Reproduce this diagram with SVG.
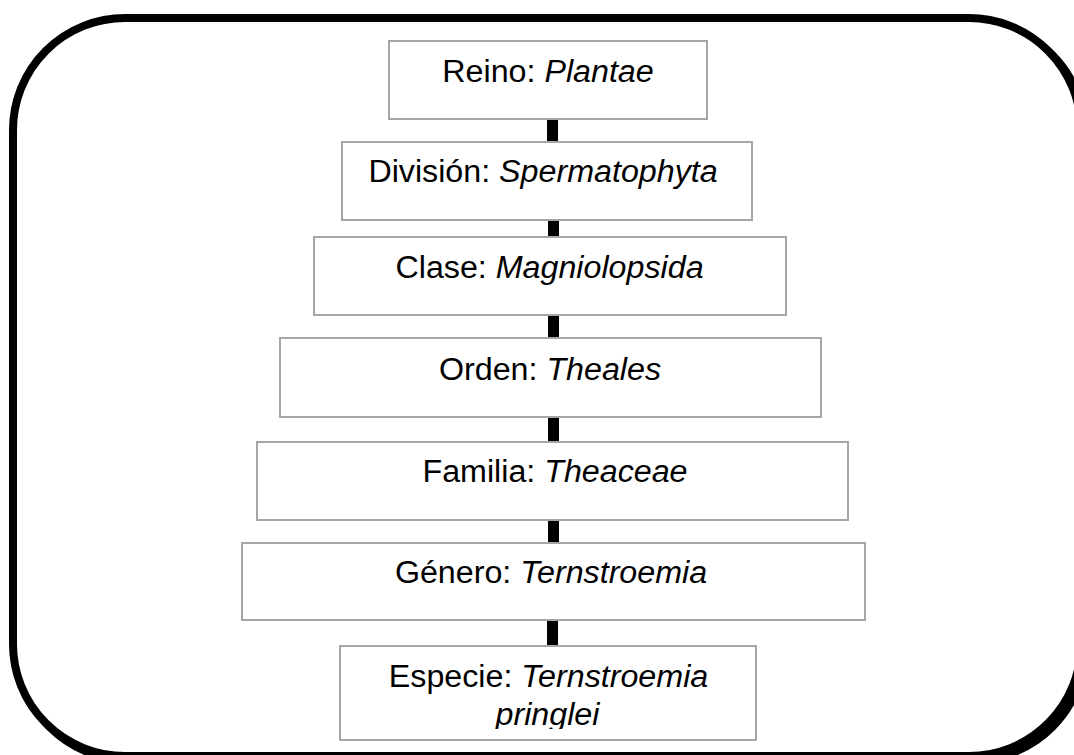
<svg xmlns="http://www.w3.org/2000/svg" width="1074" height="755" viewBox="0 0 1074 755">
<style>
.frame{fill:none;stroke:#000;stroke-width:8}
.box{fill:#fff;stroke:#a6a6a6;stroke-width:2}
.lbl{font-family:"Liberation Sans",Arial,sans-serif;font-size:31px;fill:#000;text-anchor:middle}
.lbl tspan.i{font-style:italic}
.bar{fill:#000}
</style>
<defs>
<clipPath id="clipEsp"><rect x="340" y="646" width="416" height="83"/></clipPath>
</defs>
<g id="frame">
<rect class="frame" x="17" y="22" width="1068" height="738" rx="112" ry="112"/>
<rect x="13" y="18" width="1068" height="738" rx="112" ry="112" fill="#fff" stroke="#000" stroke-width="8"/>
</g>
<g id="connectors">
<rect class="bar" x="547" y="119" width="11" height="23"/>
<rect class="bar" x="548" y="218" width="11" height="19"/>
<rect class="bar" x="548" y="315" width="11" height="23"/>
<rect class="bar" x="548" y="417" width="11" height="25"/>
<rect class="bar" x="548" y="520" width="11" height="23"/>
<rect class="bar" x="547" y="620" width="11" height="26"/>
</g>
<g id="reino">
<rect class="box" x="389" y="41" width="318" height="78"/>
<text class="lbl" transform="matrix(1.04 0 0 1 548 0)" x="0" y="82">Reino: <tspan class="i">Plantae</tspan></text>
</g>
<g id="division">
<rect class="box" x="342" y="142" width="410" height="78"/>
<text class="lbl" transform="matrix(1.04 0 0 1 543 0)" x="0" y="182">División: <tspan class="i">Spermatophyta</tspan></text>
</g>
<g id="clase">
<rect class="box" x="314" y="237" width="472" height="78"/>
<text class="lbl" transform="matrix(1.04 0 0 1 549.5 0)" x="0" y="278">Clase: <tspan class="i">Magniolopsida</tspan></text>
</g>
<g id="orden">
<rect class="box" x="280" y="338" width="541" height="79"/>
<text class="lbl" transform="matrix(1.04 0 0 1 550 0)" x="0" y="380">Orden: <tspan class="i">Theales</tspan></text>
</g>
<g id="familia">
<rect class="box" x="257" y="442" width="591" height="78"/>
<text class="lbl" transform="matrix(1.04 0 0 1 555 0)" x="0" y="482">Familia: <tspan class="i">Theaceae</tspan></text>
</g>
<g id="genero">
<rect class="box" x="242" y="543" width="623" height="77"/>
<text class="lbl" transform="matrix(1.04 0 0 1 551 0)" x="0" y="583">Género: <tspan class="i">Ternstroemia</tspan></text>
</g>
<g id="especie">
<rect class="box" x="340" y="646" width="416" height="94"/>
<g clip-path="url(#clipEsp)">
<text class="lbl" transform="matrix(1.04 0 0 1 548.5 0)" x="0" y="687">Especie: <tspan class="i">Ternstroemia</tspan></text>
<text class="lbl" transform="matrix(1.04 0 0 1 547.5 0)" x="0" y="725"><tspan class="i">pringlei</tspan></text>
</g>
</g>
</svg>
